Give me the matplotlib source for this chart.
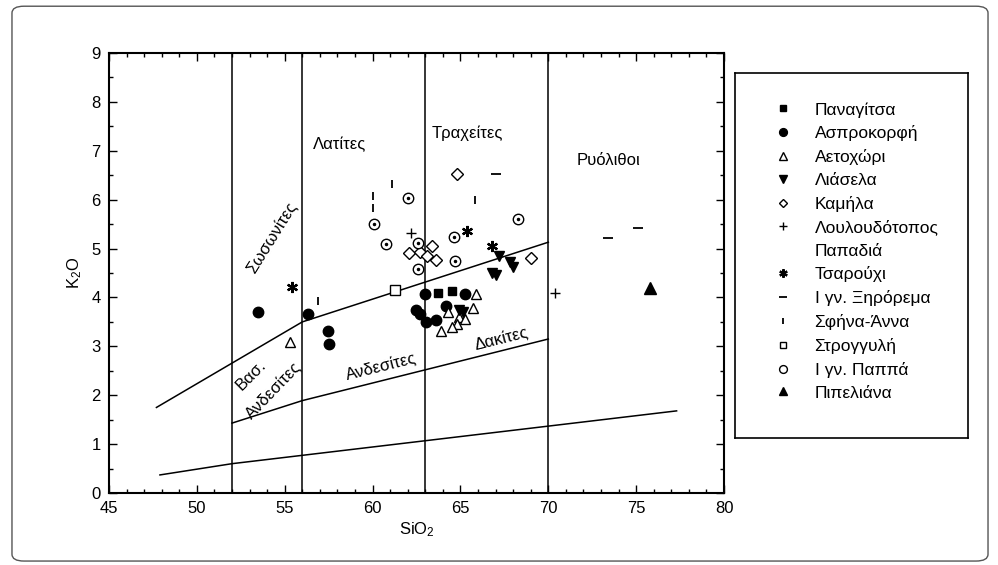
import numpy as np
import matplotlib
matplotlib.use("Agg")
import matplotlib.pyplot as plt
from matplotlib.lines import Line2D
from matplotlib.patches import FancyBboxPatch

plt.rcParams['font.family'] = ['Liberation Sans', 'DejaVu Sans']
plt.rcParams['mathtext.default'] = 'regular'

# ==========================================================
# DATA (SiO2, K2O)
# ==========================================================

panagitsa_x = [63.7, 64.5]
panagitsa_y = [4.10, 4.14]

asprokorfi_x = [53.5, 56.3, 57.45, 57.5, 63.0, 65.25, 62.45, 62.7, 63.05, 63.6, 64.15]
asprokorfi_y = [3.70, 3.66, 3.31, 3.04, 4.07, 4.07, 3.75, 3.66, 3.50, 3.54, 3.82]

aetoxori_x = [55.3, 65.9, 65.7, 64.3, 64.9, 65.25, 64.8, 64.5, 63.9]
aetoxori_y = [3.08, 4.07, 3.78, 3.70, 3.60, 3.55, 3.46, 3.40, 3.31]

liasela_x = [67.2, 67.8, 68.0, 66.8, 67.05, 64.9, 65.15]
liasela_y = [4.85, 4.73, 4.63, 4.50, 4.46, 3.74, 3.71]

kamila_x = [64.8, 63.4, 62.05, 62.7, 63.1, 63.6, 69.0]
kamila_y = [6.52, 5.05, 4.91, 4.93, 4.85, 4.76, 4.80]

louloud_x = [62.2, 70.4]
louloud_y = [5.31, 4.10]

tsarouxi_x = [55.4, 65.4, 66.8]
tsarouxi_y = [4.21, 5.36, 5.06]

xirorema_x = [67.0, 73.4, 75.1]
xirorema_y = [6.52, 5.22, 5.43]

sfina_x = [61.1, 65.8, 60.0, 60.05, 56.9]
sfina_y = [6.33, 6.00, 6.08, 5.82, 3.93]

stroggyli_x = [61.3]
stroggyli_y = [4.16]

pappa_x = [60.1, 60.75, 62.0, 62.6, 62.6, 64.65, 64.7, 68.25]
pappa_y = [5.51, 5.10, 6.03, 5.11, 4.59, 5.23, 4.74, 5.60]

pipeliana_x = [75.8]
pipeliana_y = [4.19]

# classification boundaries
field_limits = [52, 56, 63, 70]
shosh_x = [47.7, 56, 70]
shosh_y = [1.75, 3.50, 5.13]
highk_x = [52, 56, 70]
highk_y = [1.43, 1.89, 3.15]
lowk_x = [47.9, 52, 77.3]
lowk_y = [0.37, 0.60, 1.68]

# ==========================================================
# FIGURE
# ==========================================================

fig = plt.figure(figsize=(9.98, 5.65), dpi=100)
fig.patches.append(FancyBboxPatch((0.012, 0.007), 0.978, 0.982,
                                  boxstyle="round,pad=0,rounding_size=0.012",
                                  transform=fig.transFigure, fill=False,
                                  edgecolor='#555555', linewidth=1.0))

ax = fig.add_axes([0.1092, 0.1274, 0.6163, 0.7788])

for xv in field_limits:
    ax.axvline(xv, color='black', lw=1.1)
ax.plot(shosh_x, shosh_y, color='black', lw=1.1)
ax.plot(highk_x, highk_y, color='black', lw=1.1)
ax.plot(lowk_x, lowk_y, color='black', lw=1.1)

kw = dict(linestyle='none', color='black')
h = []
h.append(ax.plot(panagitsa_x, panagitsa_y, marker='s', ms=6, **kw)[0])
h.append(ax.plot(asprokorfi_x, asprokorfi_y, marker='o', ms=7.5, **kw)[0])
h.append(ax.plot(aetoxori_x, aetoxori_y, marker='^', ms=7.5, mfc='white', mew=1, **kw)[0])
h.append(ax.plot(liasela_x, liasela_y, marker='v', ms=7.5, **kw)[0])
h.append(ax.plot(kamila_x, kamila_y, marker='D', ms=6, mfc='white', mew=1, **kw)[0])
h.append(ax.plot(louloud_x, louloud_y, marker='+', ms=7, mew=1, **kw)[0])
h.append(Line2D([], [], linestyle='none', marker=''))
h.append(ax.plot(tsarouxi_x, tsarouxi_y, marker=(6, 2, 0), ms=8, mew=1.6, **kw)[0])
h.append(ax.plot(xirorema_x, xirorema_y, marker='_', ms=7, mew=1.3, **kw)[0])
h.append(ax.plot(sfina_x, sfina_y, marker='|', ms=6, mew=1.3, **kw)[0])
h.append(ax.plot(stroggyli_x, stroggyli_y, marker='s', ms=6.5, mfc='white', mew=1, **kw)[0])
h.append(ax.plot(pappa_x, pappa_y, marker='o', ms=7.5, mfc='white', mew=1, **kw)[0])
ax.plot(pappa_x, pappa_y, marker='o', ms=1.5, **kw)
h.append(ax.plot(pipeliana_x, pipeliana_y, marker='^', ms=8, **kw)[0])

labels = ['Παναγίτσα', 'Ασπροκορφή', 'Αετοχώρι', 'Λιάσελα', 'Καμήλα',
          'Λουλουδότοπος', 'Παπαδιά', 'Τσαρούχι', 'Ι γν. Ξηρόρεμα',
          'Σφήνα-Άννα', 'Στρογγυλή', 'Ι γν. Παππά', 'Πιπελιάνα']

# field names
tk = dict(fontsize=12, ha='center', va='center', rotation_mode='anchor')
ax.text(58.1, 7.12, 'Λατίτες', **tk)
ax.text(65.4, 7.36, 'Τραχείτες', **tk)
ax.text(73.4, 6.80, 'Ρυόλιθοι', **tk)
ax.text(54.3, 5.21, 'Σωσωνίτες', rotation=58, **tk)
ax.text(53.1, 2.40, 'Βασ.', rotation=45, **tk)
ax.text(54.35, 2.10, 'Ανδεσίτες', rotation=46, **tk)
ax.text(60.5, 2.58, 'Ανδεσίτες', rotation=14, **tk)
ax.text(67.3, 3.14, 'Δακίτες', rotation=14, **tk)

ax.set_xlim(45, 80)
ax.set_ylim(0, 9)
ax.set_xticks(np.arange(45, 81, 5))
ax.set_xticks(np.arange(45, 81, 1), minor=True)
ax.set_yticks(np.arange(0, 10, 1))
ax.set_yticks(np.arange(0, 9.01, 0.5), minor=True)
ax.tick_params(which='both', direction='in', top=True, right=True,
               labelsize=12, width=1)
ax.tick_params(which='major', length=6, pad=6)
ax.tick_params(which='minor', length=3)
for s in ax.spines.values():
    s.set_linewidth(1.5)
ax.set_xlabel('SiO$_2$', fontsize=12, labelpad=3)
ax.set_ylabel('K$_2$O', fontsize=12, labelpad=5)

# legend box
ax_leg = fig.add_axes([0.7365, 0.2248, 0.2335, 0.646])
ax_leg.set_xticks([])
ax_leg.set_yticks([])
for s in ax_leg.spines.values():
    s.set_linewidth(1.2)
ax_leg.legend(h, labels, loc='upper left',
              bbox_to_anchor=(774.6 / 998, 1 - 102 / 565),
              bbox_transform=fig.transFigure, frameon=False,
              borderpad=0, borderaxespad=0, handlelength=1.0,
              handletextpad=1.3, labelspacing=0.45, fontsize=12.5,
              markerscale=0.75)

fig.savefig('out.png', dpi=100)
